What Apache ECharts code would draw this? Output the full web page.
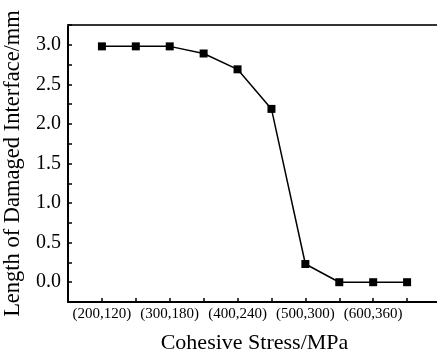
<!DOCTYPE html>
<html>
<head>
<meta charset="utf-8">
<script src="https://cdn.jsdelivr.net/npm/echarts@6/dist/echarts.min.js"></script>
<style>
    html, body { margin: 0; padding: 0; background: #fff; }
    #chart { width: 437px; height: 356px; }
</style>
</head>
<body>
<div id="chart"></div>
<script>
// cohesive stress pairs (normal, shear) in MPa
const normalStress = [200, 250, 300, 350, 400, 450, 500, 550, 600, 650]
const shearStress  = [120, 150, 180, 210, 240, 270, 300, 330, 360, 390]
const damagedLength = [2.98, 2.98, 2.98, 2.89, 2.69, 2.19, 0.23, 0, 0, 0]

const font = "'Liberation Serif', 'Times New Roman', serif"

const points = normalStress.map((x, i) => [x, damagedLength[i]])

function stressLabel(v) {
    const i = normalStress.indexOf(v)
    if (i < 0 || v % 100 !== 0) return ""
    return "(" + normalStress[i] + "," + shearStress[i] + ")"
}

const chart = echarts.init(document.getElementById("chart"))
chart.setOption({
    animation: false,
    backgroundColor: "#fff",
    grid: { left: 68, right: -4, top: 25, bottom: 54, outerBoundsMode: "none", containLabel: false },
    xAxis: [{
        type: "value",
        min: 150,
        max: 700,
        interval: 50,
        position: "bottom",
        name: "Cohesive Stress/MPa",
        nameLocation: "middle",
        nameGap: 30,
        nameTextStyle: { fontFamily: font, fontSize: 22, color: "#000" },
        splitLine: { show: false },
        axisLine: { onZero: false, lineStyle: { color: "#000", width: 2 } },
        axisTick: { inside: true, length: 4, lineStyle: { color: "#000", width: 1.5 } },
        axisLabel: {
            formatter: stressLabel,
            fontFamily: font, fontSize: 15, color: "#000", margin: 5
        }
    }, {
        type: "value",
        min: 150,
        max: 700,
        position: "top",
        axisLine: { show: true, onZero: false, lineStyle: { color: "#333", width: 2 } },
        axisTick: { show: false },
        axisLabel: { show: false },
        splitLine: { show: false }
    }],
    yAxis: {
        type: "value",
        min: -0.25,
        max: 3.25,
        interval: 0.25,
        name: "Length of Damaged Interface/mm",
        nameLocation: "middle",
        nameGap: 43,
        nameTextStyle: { fontFamily: font, fontSize: 22.5, color: "#000" },
        splitLine: { show: false },
        axisLine: { show: true, onZero: false, lineStyle: { color: "#000", width: 2 } },
        axisTick: { inside: true, length: 4, lineStyle: { color: "#000", width: 1.5 } },
        axisLabel: {
            formatter: v => (Math.abs(v * 2 - Math.round(v * 2)) < 1e-6 ? v.toFixed(1) : ""),
            fontFamily: font, fontSize: 20, color: "#000", margin: 7
        }
    },
    series: [{
        type: "line",
        data: points,
        symbol: "rect",
        symbolSize: 8,
        lineStyle: { color: "#000", width: 1.5 },
        itemStyle: { color: "#000" }
    }]
})
</script>
</body>
</html>
